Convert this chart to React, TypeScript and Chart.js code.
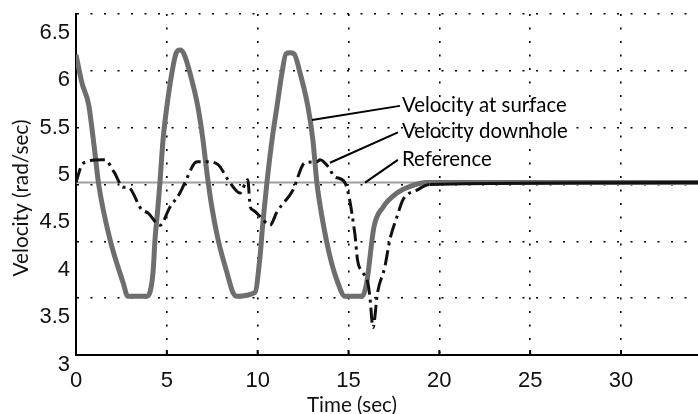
import React, { useEffect, useRef } from "react";
import { Chart, registerables } from "chart.js";

Chart.register(...registerables);

// ---- data (time in s, velocity in rad/sec as labelled on the axis) ----
const surfaceTime = [0, 0.33, 0.7, 1.0, 1.25, 1.87, 2.6, 2.85, 3.91, 4.24, 4.35, 4.51, 4.62, 4.79, 5.0, 5.28, 5.5, 5.72, 5.94, 6.27, 6.71, 6.99, 7.21, 7.48, 7.82, 8.31, 8.64, 8.86, 9.85, 10.13, 10.29, 10.51, 10.79, 11.06, 11.34, 11.56, 11.78, 12.0, 12.33, 12.77, 13.04, 13.26, 13.54, 13.98, 14.42, 14.8, 15.75, 16.0, 16.4, 16.9, 17.67, 18.4, 19.3, 34.3];
const surfaceVel = [6.27, 5.97, 5.74, 5.3, 4.9, 4.32, 3.86, 3.72, 3.72, 3.97, 4.32, 4.66, 4.92, 5.37, 5.72, 6.08, 6.28, 6.32, 6.28, 6.08, 5.72, 5.37, 5.02, 4.66, 4.32, 3.97, 3.76, 3.72, 3.76, 4.14, 4.5, 4.92, 5.37, 5.72, 6.08, 6.28, 6.29, 6.28, 6.08, 5.72, 5.37, 4.92, 4.56, 4.14, 3.86, 3.72, 3.72, 3.86, 4.45, 4.66, 4.81, 4.88, 4.92, 4.92];

const downholeTime = [0, 0.3, 0.6, 1.4, 1.6, 2.1, 2.6, 2.86, 3.63, 3.96, 4.62, 5.17, 5.72, 6.0, 6.55, 6.71, 7.21, 7.82, 8.37, 9.03, 9.45, 9.6, 9.75, 10.2, 10.68, 11.06, 11.94, 12.6, 13.26, 13.43, 13.87, 14.25, 14.8, 15.35, 15.5, 15.8, 16.07, 16.18, 16.35, 16.6, 17.0, 17.28, 17.67, 18.0, 18.77, 19.48, 34.3];
const downholeVel = [4.92, 5.1, 5.14, 5.16, 5.16, 5.03, 4.87, 4.87, 4.63, 4.6, 4.47, 4.66, 4.81, 4.92, 5.13, 5.14, 5.14, 5.11, 4.95, 4.81, 4.95, 4.66, 4.63, 4.55, 4.47, 4.61, 4.84, 5.13, 5.14, 5.16, 5.09, 4.98, 4.92, 4.38, 4.1, 3.97, 3.86, 3.71, 3.39, 3.76, 4.03, 4.32, 4.56, 4.74, 4.84, 4.9, 4.92];

const referenceTime = [0, 34.3];
const referenceVel = [4.92, 4.92];

const xTickValues = [0, 5, 10, 15, 20, 25, 30];
const xGridValues = [0, 5, 10, 15, 20, 25, 30];
const yTickLabels = [3, 3.5, 4, 4.5, 5, 5.5, 6, 6.5];
const yGridValues = [3.1, 3.7, 4.3, 4.9, 5.5, 6.1, 6.7];

const xTitle = "Time (sec)";
const yTitle = "Velocity (rad/sec)";

// annotation callouts: text, anchor on curve (t, v), line end (t, v), text baseline (t, v)
const calloutTexts = ["Velocity at surface", "Velocity downhole", "Reference"];
const calloutAnchorT = [12.99, 13.98, 15.91];
const calloutAnchorV = [5.58, 5.13, 4.92];
const calloutEndT = [17.83, 17.72, 17.72];
const calloutEndV = [5.73, 5.45, 5.16];
const calloutTextT = [17.94, 17.94, 17.94];
const calloutTextV = [5.67, 5.39, 5.10];

const toXY = (ts: number[], vs: number[]) => ts.map((t, i) => ({ x: t, y: vs[i] }));

const fitSize = (ctx: CanvasRenderingContext2D, text: string, width: number, family: string) => {
  ctx.font = `100px ${family}`;
  return (100 * width) / ctx.measureText(text).width;
};

const textPlugin = {
  id: "texts",
  afterDraw(chart: any) {
    const ctx: CanvasRenderingContext2D = chart.ctx;
    const xs = chart.scales.x;
    const ys = chart.scales.y;
    const area = chart.chartArea;
    ctx.save();
    // inward x tick marks
    ctx.strokeStyle = "#000";
    ctx.lineWidth = 2;
    xTickValues.forEach((v) => {
      if (v === 0) return;
      const px = xs.getPixelForValue(v);
      ctx.beginPath();
      ctx.moveTo(px, area.bottom);
      ctx.lineTo(px, area.bottom - 5);
      ctx.stroke();
    });
    // tick labels
    ctx.fillStyle = "#111";
    ctx.font = '22px "Liberation Sans", Arial, sans-serif';
    ctx.textAlign = "right";
    ctx.textBaseline = "middle";
    yTickLabels.forEach((v) => {
      ctx.fillText(String(v), 70, ys.getPixelForValue(v));
    });
    ctx.textAlign = "center";
    xTickValues.forEach((v) => {
      ctx.fillText(String(v), xs.getPixelForValue(v), 381);
    });
    // titles
    const fam = "Lato, sans-serif";
    const ySize = fitSize(ctx, yTitle, 157, fam);
    ctx.font = `${ySize}px ${fam}`;
    ctx.save();
    ctx.translate(21, 198);
    ctx.rotate(-Math.PI / 2);
    ctx.textAlign = "center";
    ctx.textBaseline = "middle";
    ctx.fillText(yTitle, 0, 0);
    ctx.restore();
    const xSize = fitSize(ctx, xTitle, 90, fam);
    ctx.font = `${xSize}px ${fam}`;
    ctx.textAlign = "center";
    ctx.textBaseline = "middle";
    ctx.fillText(xTitle, 352, 405);
    // callouts
    const cSize = fitSize(ctx, calloutTexts[0], 165, fam);
    calloutTexts.forEach((t, i) => {
      ctx.strokeStyle = "#000";
      ctx.lineWidth = 2;
      ctx.beginPath();
      ctx.moveTo(xs.getPixelForValue(calloutAnchorT[i]), ys.getPixelForValue(calloutAnchorV[i]));
      ctx.lineTo(xs.getPixelForValue(calloutEndT[i]), ys.getPixelForValue(calloutEndV[i]));
      ctx.stroke();
      ctx.font = `${cSize}px ${fam}`;
      ctx.textAlign = "left";
      ctx.textBaseline = "alphabetic";
      ctx.fillStyle = "#000";
      ctx.fillText(t, xs.getPixelForValue(calloutTextT[i]), ys.getPixelForValue(calloutTextV[i]));
    });
    ctx.restore();
  },
};

const dotted = [2, 11.5];
const dashDot = [15, 5, 3, 5];

export default function App() {
  const ref = useRef<HTMLCanvasElement | null>(null);
  useEffect(() => {
    if (!ref.current) return;
    const chart = new Chart(ref.current, {
      type: "line",
      data: {
        datasets: [
          {
            label: "Velocity downhole",
            data: toXY(downholeTime, downholeVel),
            borderColor: "#111",
            borderWidth: 3,
            pointRadius: 0,
            cubicInterpolationMode: "monotone",
            segment: {
              borderDash: (c: any) => (c.p0.parsed.x >= 19 ? [] : dashDot),
            },
            order: 0,
          } as any,
          {
            label: "Velocity at surface",
            data: toXY(surfaceTime, surfaceVel),
            borderColor: "#6e6e6e",
            borderWidth: 5,
            pointRadius: 0,
            cubicInterpolationMode: "monotone",
            order: 1,
          },
          {
            label: "Reference",
            data: toXY(referenceTime, referenceVel),
            borderColor: "#a0a0a0",
            borderWidth: 2,
            pointRadius: 0,
            order: 2,
          },
        ],
      },
      options: {
        animation: false,
        responsive: false,
        devicePixelRatio: 1,
        layout: { padding: { top: 14, right: 0, left: 0, bottom: 0 } },
        plugins: { legend: { display: false }, tooltip: { enabled: false } },
        scales: {
          x: {
            type: "linear",
            min: 0,
            max: 34.24,
            afterBuildTicks: (s: any) => {
              s.ticks = xGridValues.map((v) => ({ value: v }));
            },
            afterFit: (s: any) => {
              s.height = 59;
            },
            ticks: { display: false },
            grid: { color: "#000", lineWidth: 1.6, drawTicks: false },
            border: { display: true, color: "#000", width: 2, dash: dotted },
          },
          y: {
            type: "linear",
            min: 3.1,
            max: 6.7,
            afterBuildTicks: (s: any) => {
              s.ticks = yGridValues.map((v) => ({ value: v }));
            },
            afterFit: (s: any) => {
              s.width = 76;
            },
            ticks: { display: false },
            grid: { color: "#000", lineWidth: 1.6, drawTicks: false },
            border: { display: true, color: "#000", width: 2, dash: dotted },
          },
        },
      } as any,
      plugins: [textPlugin],
    });
    return () => chart.destroy();
  }, []);
  return (
    <div style={{ position: "fixed", left: 0, top: 0, width: 698, height: 414, background: "#fff" }}>
      <canvas ref={ref} width={698} height={414} style={{ width: 698, height: 414, display: "block" }} />
    </div>
  );
}
